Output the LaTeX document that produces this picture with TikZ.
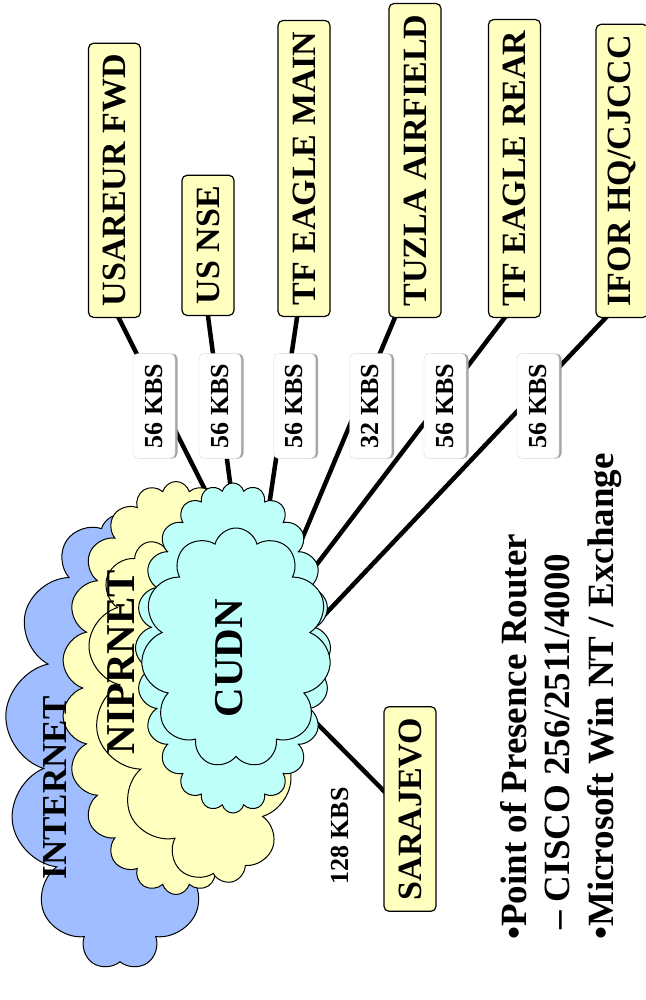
\documentclass[tikz,border=0pt]{standalone}
\usepackage{fontspec}
\setmainfont{Liberation Serif}
\usetikzlibrary{positioning,shapes.symbols,shadows,calc,backgrounds}

\definecolor{netblue}{RGB}{160,190,255}
\definecolor{netyellow}{RGB}{255,255,192}
\definecolor{netcyan}{RGB}{190,255,250}

\begin{document}
\begin{tikzpicture}[
        x=1pt, y=-1pt,
        site/.style={
            draw,
            line width=1.2pt,
            rounded corners=5pt,
            fill=netyellow,
            rotate=90,
            anchor=west,
            minimum height=52pt,
            inner xsep=11pt,
            font=\fontsize{34}{34}\selectfont\bfseries
        },
        rate/.style={
            draw=gray!30,
            fill=white,
            rounded corners=5pt,
            drop shadow={shadow xshift=2.5pt, shadow yshift=0pt, fill=gray!70, opacity=1},
            rotate=90,
            minimum width=105pt,
            minimum height=42pt,
            font=\fontsize{26}{26}\selectfont\bfseries
        },
        net/.style={
            cloud,
            draw,
            line width=1pt,
            cloud ignores aspect,
            inner sep=0pt
        },
        netname/.style={rotate=90, font=\fontsize{41}{41}\selectfont\bfseries},
        link/.style={line width=4.5pt, shorten <=-6pt, shorten >=-10pt}
    ]
        \useasboundingbox (0,0) rectangle (645,1000);

        \node[net, fill=netblue, cloud puffs=13, minimum width=230pt, minimum height=455pt] (internet) at (120,742) {};
        \node[net, fill=netyellow, cloud puffs=22, minimum width=228pt, minimum height=413pt] (nipr) at (176,688) {};
        \node[net, fill=netyellow, cloud puffs=12, rotate=14, minimum width=190pt, minimum height=350pt] (niprcore) at (190,712) {};
        \node[net, fill=netcyan, cloud puffs=24, minimum width=195pt, minimum height=330pt] (cudn) at (233,648) {};
        \node[net, fill=netcyan, cloud puffs=11, minimum width=190pt, minimum height=240pt] (cudncore) at (236,648) {};

        \node[netname, font=\fontsize{35}{35}\selectfont\bfseries] (internetname) at (55,788) {INTERNET};
        \node[netname] (niprname) at (121,662) {NIPRNET};
        \node[netname] (cudnname) at (229,658) {CUDN};

        \node[site] (usareur) at (114.5,318) {USAREUR FWD};
        \node[site] (usnse) at (208,316) {US NSE};
        \node[site] (tfmain) at (304,317) {TF EAGLE MAIN};
        \node[site] (tuzla) at (415,318) {TUZLA AIRFIELD};
        \node[site] (tfrear) at (514.5,318) {TF EAGLE REAR};
        \node[site] (ifor) at (622,318) {IFOR HQ/CJCCC};
        \node[site, anchor=center] (sarajevo) at (410,809) {SARAJEVO};

        \node[rate] (r1) at (154,406) {56 KBS};
        \node[rate] (r2) at (220,406) {56 KBS};
        \node[rate] (r3) at (294.5,406) {56 KBS};
        \node[rate] (r4) at (370.5,406) {32 KBS};
        \node[rate] (r5) at (445,406) {56 KBS};
        \node[rate] (r6) at (538,406) {56 KBS};
        \node[rotate=90, font=\fontsize{26}{26}\selectfont\bfseries] (r7) at (340,836) {128 KBS};

        \begin{scope}[on background layer]
            \draw[link] ($(usareur.north west)!0.58!(usareur.south west)$) -- (cudn.100);
            \draw[link] ($(usnse.north west)!0.5!(usnse.south west)$) -- (cudn.91);
            \draw[link] ($(tfmain.north west)!0.37!(tfmain.south west)$) -- (cudn.76);
            \draw[link] ($(tuzla.north west)!0.12!(tuzla.south west)$) -- (cudn.58);
            \draw[link] ($(tfrear.north west)!0.31!(tfrear.south west)$) -- (cudn.45);
            \draw[link] ($(ifor.north west)!0.19!(ifor.south west)$) -- (cudn.21);
            \draw[link] ($(sarajevo.north east)!0.41!(sarajevo.north west)$) -- (cudn.-42);
        \end{scope}

        \node[rotate=90, anchor=north west, align=left, inner sep=0pt,
            font=\fontsize{37}{43.5}\selectfont\bfseries] (notes) at (500,940)
            {•Point of Presence Router\\\hspace*{10pt}– CISCO 256/2511/4000\\•Microsoft Win NT / Exchange};
    \end{tikzpicture}
\end{document}
